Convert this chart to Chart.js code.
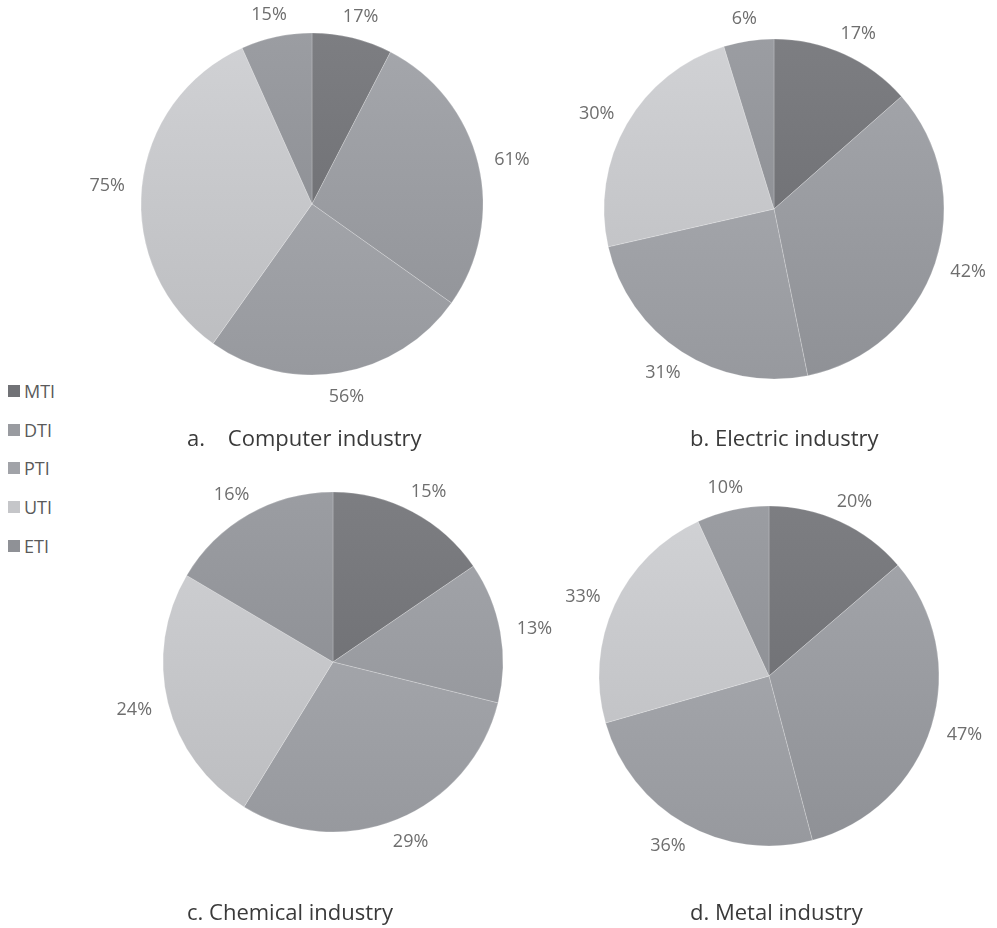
<!DOCTYPE html>
<html>
<head>
<meta charset="utf-8">
<script src="https://cdn.jsdelivr.net/npm/chart.js@4/dist/chart.umd.min.js"></script>
<style>
    body { margin: 0; width: 997px; height: 928px; background: #fff; position: relative; overflow: hidden; font-family: "Open Sans", sans-serif; }
    canvas { position: absolute; }
    .title { position: absolute; font-size: 22px; line-height: 22px; color: #3a3a3a; white-space: pre; }
    .legendRow { position: absolute; left: 8px; height: 20px; display: flex; align-items: center; font-size: 18px; color: #5a5a5a; }
    .legendRow span { display: inline-block; width: 12px; height: 12px; margin-right: 4px; }
</style>
</head>
<body>
<canvas id="pieA" width="460" height="460"></canvas>
<canvas id="pieB" width="460" height="460"></canvas>
<canvas id="pieC" width="460" height="460"></canvas>
<canvas id="pieD" width="460" height="460"></canvas>
<div id="legend"></div>

<script>
// index types shown in every pie
const categories = ['MTI', 'DTI', 'PTI', 'UTI', 'ETI']
const sliceColors = ['#717276', '#999ba0', '#a1a3a8', '#c5c6c9', '#8f9196']

// shares per industry (%)
const computerValues = [17, 61, 56, 75, 15]
const electricValues = [17, 42, 31, 30, 6]
const chemicalValues = [15, 13, 29, 24, 16]
const metalValues = [20, 47, 36, 33, 10]

const titles = ['a.    Computer industry', 'b. Electric industry', 'c. Chemical industry', 'd. Metal industry']

// where each pie sits on the page
const pies = [
    { id: 'pieA', values: computerValues, cx: 312, cy: 204, r: 171, title: { left: 187, top: 426 } },
    { id: 'pieB', values: electricValues, cx: 774, cy: 209, r: 170, title: { left: 690, top: 426 } },
    { id: 'pieC', values: chemicalValues, cx: 333, cy: 662, r: 170, title: { left: 187, top: 900 } },
    { id: 'pieD', values: metalValues, cx: 769, cy: 676, r: 170, title: { left: 690, top: 900 } }
]

function shade(hex, amt) {
    let n = parseInt(hex.slice(1), 16)
    let r = Math.min(255, Math.max(0, (n >> 16) + amt))
    let g = Math.min(255, Math.max(0, ((n >> 8) & 255) + amt))
    let b = Math.min(255, Math.max(0, (n & 255) + amt))
    return `rgb(${r},${g},${b})`
}

// soft top-to-bottom shading like the office pie style
function sliceFill(context) {
    const chart = context.chart
    const area = chart.chartArea
    const base = sliceColors[context.dataIndex]
    if (!area) return base
    const cy = (area.top + area.bottom) / 2
    const r = chart.options.pieRadius
    const grad = chart.ctx.createLinearGradient(0, cy - r, 0, cy + r)
    grad.addColorStop(0, shade(base, 12))
    grad.addColorStop(1, shade(base, -10))
    return grad
}

// percentage labels just outside each slice
const outsideLabels = {
    id: 'outsideLabels',
    afterDatasetsDraw(chart) {
        const ctx = chart.ctx
        const values = chart.data.datasets[0].data
        const fontSize = 18
        ctx.save()
        ctx.font = `${fontSize}px "Open Sans"`
        ctx.fillStyle = '#6e6e6e'
        ctx.textAlign = 'center'
        ctx.textBaseline = 'alphabetic'
        chart.getDatasetMeta(0).data.forEach((arc, i) => {
            const p = arc.getProps(['x', 'y', 'startAngle', 'endAngle', 'outerRadius'], true)
            const mid = (p.startAngle + p.endAngle) / 2
            const text = values[i] + '%'
            const halfW = ctx.measureText(text).width / 2
            const halfH = fontSize * 0.714 / 2
            const dist = p.outerRadius + 17
            const px = p.x + Math.cos(mid) * (dist + halfW)
            const py = p.y + Math.sin(mid) * (dist + halfH)
            ctx.fillText(text, px, py + halfH)
        })
        ctx.restore()
    }
}

pies.forEach((pie, k) => {
    const canvas = document.getElementById(pie.id)
    canvas.style.left = (pie.cx - 230) + 'px'
    canvas.style.top = (pie.cy - 230) + 'px'

    new Chart(canvas.getContext('2d'), {
        type: 'pie',
        data: {
            labels: categories,
            datasets: [{
                data: pie.values,
                backgroundColor: sliceFill,
                borderColor: 'rgba(255,255,255,0.2)',
                borderWidth: 1,
                radius: pie.r
            }]
        },
        options: {
            responsive: false,
            animation: false,
            pieRadius: pie.r,
            layout: { padding: 0 },
            plugins: {
                legend: { display: false },
                tooltip: { enabled: false }
            }
        },
        plugins: [outsideLabels]
    })

    const t = document.createElement('div')
    t.className = 'title'
    t.textContent = titles[k]
    t.style.left = pie.title.left + 'px'
    t.style.top = pie.title.top + 'px'
    document.body.appendChild(t)
})

// legend on the left
const legend = document.getElementById('legend')
categories.forEach((name, i) => {
    const row = document.createElement('div')
    row.className = 'legendRow'
    row.style.top = (381 + i * 38.7) + 'px'
    const box = document.createElement('span')
    box.style.background = sliceColors[i]
    row.appendChild(box)
    row.appendChild(document.createTextNode(name))
    legend.appendChild(row)
})
</script>
</body>
</html>
